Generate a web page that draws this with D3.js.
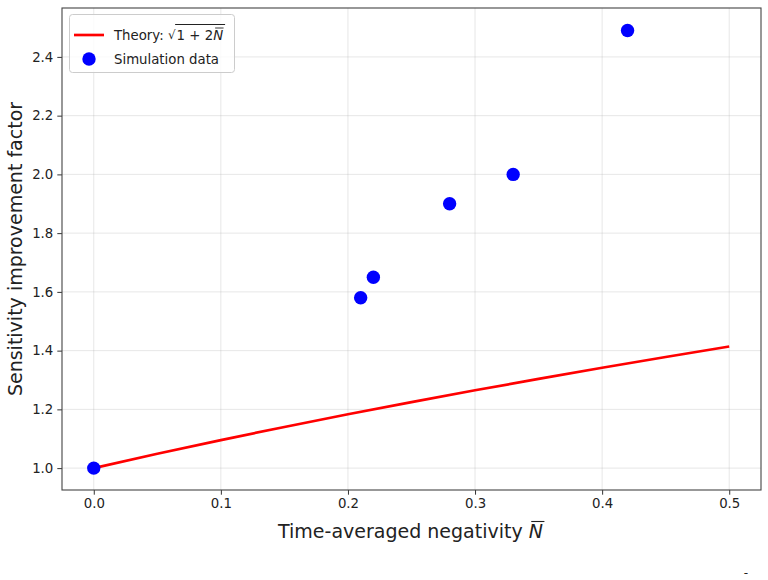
<!DOCTYPE html>
<html><head><meta charset="utf-8">
<script src="https://cdn.jsdelivr.net/npm/d3@7"></script>
<style>
html,body{margin:0;padding:0;background:#fff;}
svg{display:block;font-family:"DejaVu Sans",sans-serif;}
</style></head>
<body>
<svg id="chart" width="768" height="580"></svg>
<script>
// Data
const simN = [0.0, 0.21, 0.22, 0.28, 0.33, 0.42];
const simFactor = [1.0, 1.58, 1.65, 1.90, 2.00, 2.49];
const theoryN = [0.0, 0.05, 0.10, 0.15, 0.20, 0.25, 0.30, 0.35, 0.40, 0.45, 0.50];
const theoryFactor = [1.0, 1.0488, 1.0954, 1.1402, 1.1832, 1.2247, 1.2649, 1.3038, 1.3416, 1.3784, 1.4142];
const xTicks = [0.0, 0.1, 0.2, 0.3, 0.4, 0.5];
const yTicks = [1.0, 1.2, 1.4, 1.6, 1.8, 2.0, 2.2, 2.4];

const svg = d3.select("#chart");
const L = 62, R = 761, T = 8, B = 490;
const x = d3.scaleLinear().domain([-0.025, 0.525]).range([L, R]);
const y = d3.scaleLinear().domain([0.9255, 2.5665]).range([B, T]);

// grid
const g = svg.append("g");
g.selectAll(".gx").data(xTicks).enter().append("line")
  .attr("x1", d => x(d)).attr("x2", d => x(d)).attr("y1", T).attr("y2", B)
  .attr("stroke", "#b0b0b0").attr("stroke-opacity", 0.3).attr("stroke-width", 1);
g.selectAll(".gy").data(yTicks).enter().append("line")
  .attr("y1", d => y(d)).attr("y2", d => y(d)).attr("x1", L).attr("x2", R)
  .attr("stroke", "#b0b0b0").attr("stroke-opacity", 0.3).attr("stroke-width", 1);

// axes
const xAxis = d3.axisBottom(x).tickValues(xTicks).tickFormat(d3.format(".1f")).tickSize(4.7).tickPadding(4);
const yAxis = d3.axisLeft(y).tickValues(yTicks).tickFormat(d3.format(".1f")).tickSize(4.7).tickPadding(4);
const gx = svg.append("g").attr("transform", `translate(0,${B})`).call(xAxis);
const gy = svg.append("g").attr("transform", `translate(${L},0)`).call(yAxis);
[gx, gy].forEach(a => {
  a.select(".domain").remove();
  a.selectAll("text").attr("font-size", "13.3px").attr("fill", "#222").attr("font-family", "DejaVu Sans");
  a.selectAll("line").attr("stroke", "#333");
});

// theory line
const line = d3.line().x((d, i) => x(theoryN[i])).y((d, i) => y(theoryFactor[i]));
svg.append("path").datum(theoryFactor).attr("d", line)
  .attr("fill", "none").attr("stroke", "#ff0000").attr("stroke-width", 2.67);

// sim points
svg.selectAll(".pt").data(simN).enter().append("circle")
  .attr("cx", d => x(d)).attr("cy", (d, i) => y(simFactor[i])).attr("r", 6.7)
  .attr("fill", "#0000ff");

// frame
svg.append("rect").attr("x", L).attr("y", T).attr("width", R - L).attr("height", B - T)
  .attr("fill", "none").attr("stroke", "#444").attr("stroke-width", 1.1);

// axis labels
const xl = svg.append("text").attr("x", (L + R) / 2 - 1).attr("y", 538).attr("text-anchor", "middle")
  .attr("font-size", "19px").attr("fill", "#222");
xl.append("tspan").text("Time-averaged negativity ");
xl.append("tspan").attr("font-style", "italic").attr("id", "xN").text("N");
svg.append("text").attr("transform", `translate(22,${(T + B) / 2}) rotate(-90)`)
  .attr("text-anchor", "middle").attr("font-size", "19px").attr("fill", "#222")
  .text("Sensitivity improvement factor");

// overline on x-label N
{
  const n = document.getElementById("xN");
  const s = n.getStartPositionOfChar(0).x;
  const w = n.getComputedTextLength();
  svg.append("line").attr("x1", s + 2.5).attr("x2", s + w + 1.5)
    .attr("y1", 538 - 16.5).attr("y2", 538 - 16.5).attr("stroke", "#222").attr("stroke-width", 1.1);
}

// legend
const lg = svg.append("g");
lg.append("rect").attr("x", 69.5).attr("y", 14.5).attr("width", 165).attr("height", 58).attr("rx", 3)
  .attr("fill", "#fff").attr("fill-opacity", 0.8).attr("stroke", "#ccc").attr("stroke-width", 1);
lg.append("line").attr("x1", 74).attr("x2", 104).attr("y1", 35).attr("y2", 35)
  .attr("stroke", "#ff0000").attr("stroke-width", 2.67);
lg.append("circle").attr("cx", 89).attr("cy", 59).attr("r", 6.7).attr("fill", "#0000ff");
const lt = lg.append("text").attr("x", 114).attr("y", 40).attr("font-size", "13.3px").attr("fill", "#222");
lt.append("tspan").text("Theory: ");
const sq = lt.append("tspan").attr("font-size", "12px").attr("dy", -1).text("√");
const rad = lt.append("tspan").attr("dy", 1).attr("dx", 1).text("1 + 2");
const nn = lt.append("tspan").attr("font-style", "italic").text("N");
{
  const s = sq.node(), n = nn.node();
  const sEnd = s.getStartPositionOfChar(0).x + s.getComputedTextLength();
  const nStart = n.getStartPositionOfChar(0).x;
  const nEnd = nStart + n.getComputedTextLength();
  lg.append("line").attr("x1", sEnd - 0.5).attr("x2", nEnd + 2).attr("y1", 24.5).attr("y2", 24.5)
    .attr("stroke", "#222").attr("stroke-width", 1);
  lg.append("line").attr("x1", nStart + 2).attr("x2", nEnd + 0.5).attr("y1", 28).attr("y2", 28)
    .attr("stroke", "#222").attr("stroke-width", 0.9);
}
lg.append("text").attr("x", 114).attr("y", 64).attr("font-size", "13.3px").attr("fill", "#222")
  .text("Simulation data");

// stray mark at bottom right
svg.append("text").attr("x", 746).attr("y", 577).attr("text-anchor", "middle")
  .attr("font-size", "12px").attr("fill", "#222").text("-");
</script>
</body></html>
